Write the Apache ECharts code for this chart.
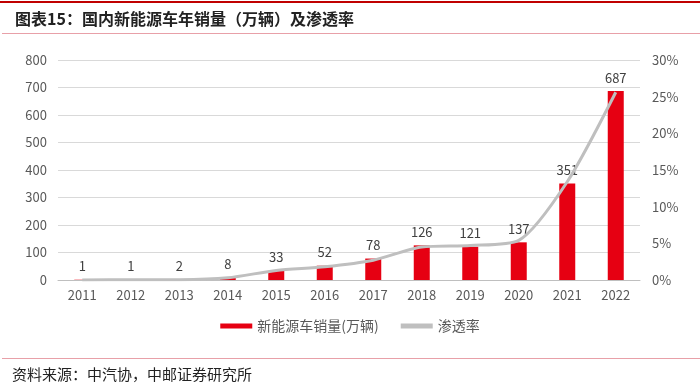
<!DOCTYPE html>
<html><head><meta charset="utf-8">
<script src="https://cdn.jsdelivr.net/npm/echarts@6/dist/echarts.min.js"></script>
<style>html,body{margin:0;padding:0;background:#fff}#c{width:700px;height:388px}</style>
</head><body><div id="c"></div>
<script>
const years = ['2011','2012','2013','2014','2015','2016','2017','2018','2019','2020','2021','2022'];
const sales = [1,1,2,8,33,52,78,126,121,137,351,687];
const penetration = [0.01,0.03,0.04,0.3,1.3,1.8,2.7,4.5,4.7,5.4,13.4,25.6];
const salesName = '新能源车销量(万辆)';
const rateName = '渗透率';

const chart = echarts.init(document.getElementById('c'));
const font = '"Noto Sans CJK SC", "Liberation Sans", sans-serif';
chart.setOption({
  animation: false,
  textStyle: {fontFamily: font},
  title: {text: '图表15：国内新能源车年销量（万辆）及渗透率', left: 10, top: 6,
    textStyle: {fontSize: 16, fontWeight: 'bold', color: '#222', fontFamily: font}},
  graphic: [
    {type: 'rect', shape: {x: 0, y: 1, width: 700, height: 2}, style: {fill: '#c00000'}},
    {type: 'rect', shape: {x: 2, y: 33, width: 698, height: 1}, style: {fill: '#e8a0a8'}},
    {type: 'rect', shape: {x: 2, y: 358, width: 698, height: 1}, style: {fill: '#e8a0a8'}},
    {type: 'text', left: 12, top: 367, style: {text: '资料来源：中汽协，中邮证券研究所', fontSize: 15, fill: '#222', fontFamily: font}}
  ],
  legend: {bottom: 50, left: 'center', itemGap: 22, itemWidth: 32, itemHeight: 5,
    textStyle: {fontSize: 14, color: '#595959'},
    data: [{name: salesName, icon: 'rect'}, {name: rateName, icon: 'rect'}]},
  grid: {left: 58, right: 60, top: 60, bottom: 108},
  xAxis: {type: 'category', data: years,
    axisLine: {lineStyle: {color: '#bfbfbf'}}, axisTick: {show: false},
    axisLabel: {color: '#595959', fontSize: 13, margin: 9}},
  yAxis: [
    {type: 'value', min: 0, max: 800, interval: 100,
      axisLabel: {color: '#595959', fontSize: 13, margin: 11},
      splitLine: {lineStyle: {color: '#d9d9d9'}}, axisLine: {show: false}},
    {type: 'value', min: 0, max: 30, interval: 5,
      axisLabel: {color: '#595959', fontSize: 13, formatter: '{value}%', margin: 12},
      splitLine: {show: false}, axisLine: {show: false}}
  ],
  series: [
    {name: salesName, type: 'bar', data: sales, barWidth: 16,
      itemStyle: {color: '#e60012'},
      label: {show: true, position: 'top', color: '#404040', fontSize: 13, distance: 7}},
    {name: rateName, type: 'line', yAxisIndex: 1, data: penetration, smooth: 0.25,
      symbol: 'none', lineStyle: {color: '#bfbfbf', width: 3}, itemStyle: {color: '#bfbfbf'}}
  ]
});
</script></body></html>
